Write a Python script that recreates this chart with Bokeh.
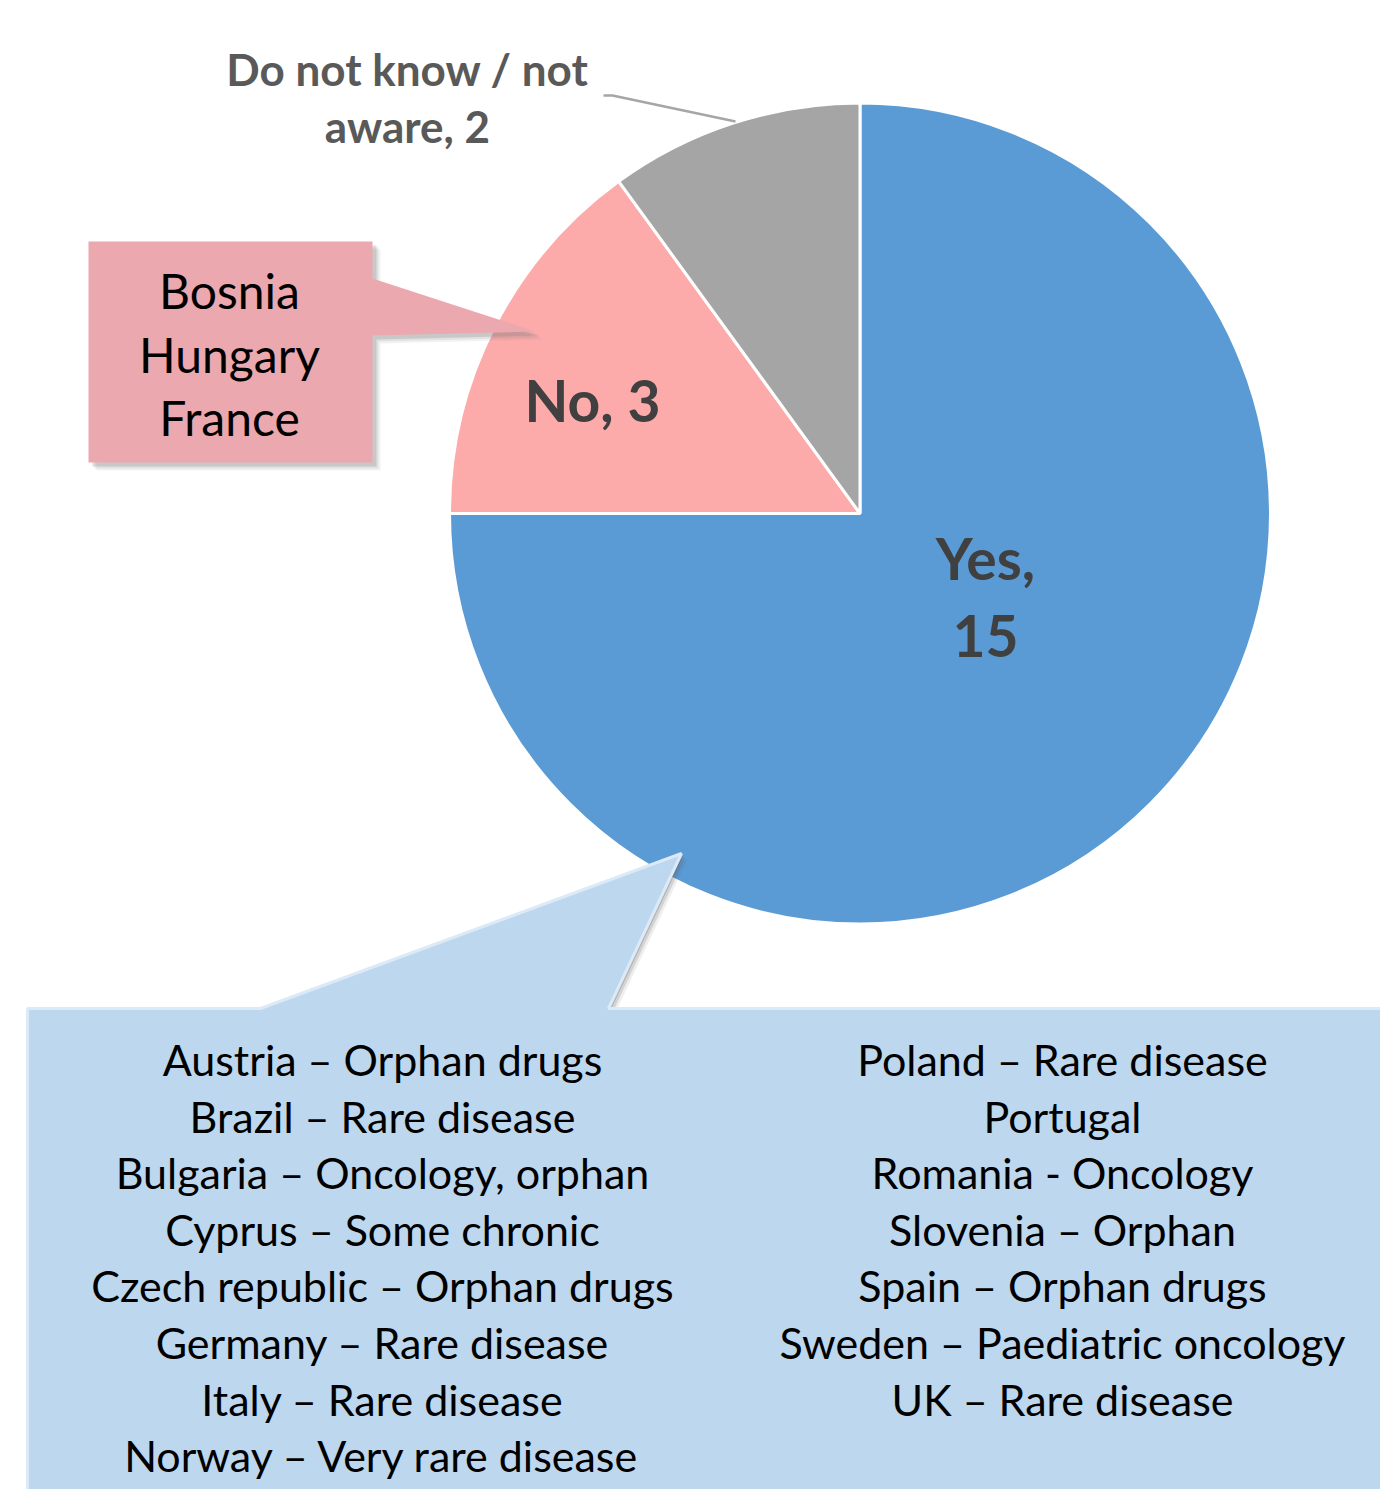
import numpy as np
from bokeh.plotting import figure
from bokeh.models import Range1d, ColumnDataSource
from bokeh.core.properties import value
from bokeh.embed import file_html
from bokeh.resources import INLINE

# ---------------- data ----------------
categories = ["Yes", "No", "Do not know / not aware"]
counts = [15, 3, 2]
slice_colors = ["#5B9BD5", "#FDAAAA", "#A5A5A5"]

no_countries = ["Bosnia", "Hungary", "France"]

yes_left = [
    "Austria \u2013 Orphan drugs",
    "Brazil \u2013 Rare disease",
    "Bulgaria \u2013 Oncology, orphan",
    "Cyprus \u2013 Some chronic",
    "Czech republic \u2013 Orphan drugs",
    "Germany \u2013 Rare disease",
    "Italy \u2013 Rare disease",
    "Norway \u2013 Very rare disease",
]
yes_right = [
    "Poland \u2013 Rare disease",
    "Portugal",
    "Romania - Oncology",
    "Slovenia \u2013 Orphan",
    "Spain \u2013 Orphan drugs",
    "Sweden \u2013 Paediatric oncology",
    "UK \u2013 Rare disease",
]

# ---------------- layout ----------------
W, H = 1380, 1489


def Y(py):
    return H - py


p = figure(width=W, height=H, output_backend="svg", toolbar_location=None,
           x_range=Range1d(0, W), y_range=Range1d(0, H),
           min_border=0)
p.axis.visible = False
p.grid.visible = False
p.outline_line_color = None
p.background_fill_color = "white"

FONT = value("Lato")

# ---------------- pie ----------------
cx, cy, R = 859.5, Y(513), 410.5
total = sum(counts)
ang = np.array(counts) / total * 2 * np.pi
cum = np.concatenate([[0], np.cumsum(ang)[:-1]])
ends = np.pi / 2 - cum
starts = ends - ang
src = ColumnDataSource(dict(start=starts, end=ends, color=slice_colors,
                            cat=categories, val=counts))
p.wedge(x=cx, y=cy, radius=R, start_angle="start", end_angle="end",
        direction="anticlock", fill_color="color", line_color="white",
        line_width=3, source=src)

# slice labels
p.text(x=[985], y=[Y(596)], text=[f"{categories[0]},\n{counts[0]}"],
       text_align="center", text_baseline="middle", text_font=FONT,
       text_font_style="bold", text_font_size="57px", text_color="#404040",
       text_line_height=1.14)
p.text(x=[592], y=[Y(399)], text=[f"{categories[1]}, {counts[1]}"],
       text_align="center", text_baseline="middle", text_font=FONT,
       text_font_style="bold", text_font_size="57px", text_color="#404040")
p.text(x=[407], y=[Y(97)], text=["Do not know / not\naware, " + str(counts[2])],
       text_align="center", text_baseline="middle", text_font=FONT,
       text_font_style="bold", text_font_size="44px", text_color="#595959",
       text_line_height=1.1)
p.line([603, 612, 735], [Y(95), Y(95), Y(121)], line_color="#A6A6A6", line_width=2.5)

# ---------------- pink callout ----------------
pink_x = [88, 372, 372, 535, 372, 372, 88]
pink_y = [Y(v) for v in [241, 241, 278, 331, 335, 462, 462]]
for off, a in [(8, 0.10), (6, 0.15), (4, 0.25)]:
    p.patch([x + off for x in pink_x], [y - off for y in pink_y],
            fill_color="#7F7F7F", fill_alpha=a, line_color=None)
p.patch(pink_x, pink_y, fill_color="#EBA8AE", line_color=None)
p.text(x=[229] * 3, y=[Y(290), Y(354), Y(417)], text=no_countries,
       text_align="center", text_baseline="middle", text_font=FONT,
       text_font_size="48px", text_color="black")

# ---------------- blue callout ----------------
blue_x = [27, 260, 681, 608, 1400, 1400, 27]
blue_y = [Y(v) for v in [1008, 1008, 853, 1008, 1008, 1510, 1510]]
for off, a in [(6, 0.10), (4, 0.18), (2, 0.28)]:
    p.patch([x + off for x in blue_x], [y - off for y in blue_y],
            fill_color="#595959", fill_alpha=a, line_color=None)
p.patch(blue_x, blue_y, fill_color="#BDD7EE", line_color="#DCE9F6", line_width=3)

row_y = [Y(1059 + i * 56.6) for i in range(len(yes_left))]
p.text(x=[382] * len(yes_left), y=row_y, text=yes_left,
       text_align="center", text_baseline="middle", text_font=FONT,
       text_font_size="43px", text_color="black")
p.text(x=[1062] * len(yes_right), y=row_y[:len(yes_right)], text=yes_right,
       text_align="center", text_baseline="middle", text_font=FONT,
       text_font_size="43px", text_color="black")

open("out.html", "w").write(file_html(p, INLINE))
